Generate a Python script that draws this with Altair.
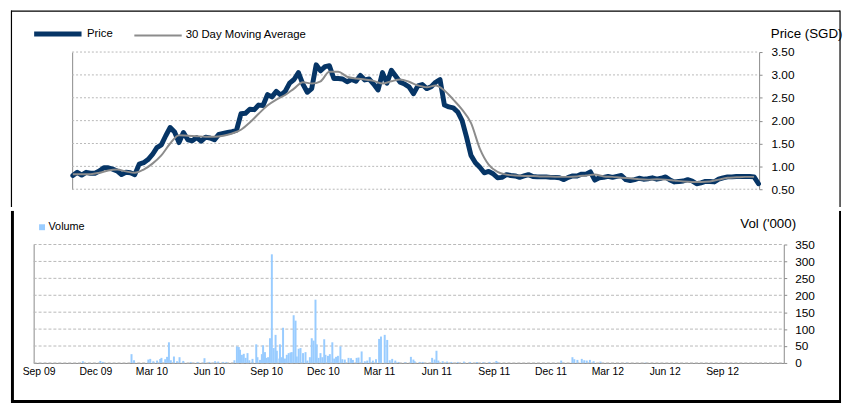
import altair as alt
import pandas as pd

FONT = "Liberation Sans"

# ---------------- data ----------------
price_start = "2009-11-02"          # weekly closing prices
price_values = [
    0.80, 0.87, 0.81, 0.87, 0.85, 0.85, 0.90, 0.97, 0.97, 0.94,
    0.90, 0.82, 0.87, 0.86, 0.82, 1.05, 1.08, 1.15, 1.26, 1.41,
    1.47, 1.67, 1.85, 1.75, 1.52, 1.74, 1.58, 1.56, 1.63, 1.55,
    1.64, 1.62, 1.58, 1.70, 1.72, 1.74, 1.76, 1.79, 2.15, 2.16,
    2.25, 2.24, 2.34, 2.33, 2.57, 2.52, 2.64, 2.56, 2.64, 2.82,
    2.90, 3.05, 2.80, 2.62, 2.70, 3.22, 3.09, 3.18, 3.20, 2.92,
    2.92, 2.91, 2.85, 2.90, 2.86, 2.99, 2.89, 2.91, 2.80, 2.67,
    3.05, 2.82, 3.10, 2.97, 2.84, 2.80, 2.74, 2.59, 2.76, 2.79,
    2.70, 2.74, 2.84, 2.90, 2.34, 2.30, 2.28, 2.19, 2.00, 1.64,
    1.24, 1.08, 0.98, 0.86, 0.89, 0.84, 0.75, 0.76, 0.82, 0.80,
    0.79, 0.76, 0.79, 0.82, 0.78, 0.77, 0.77, 0.77, 0.76, 0.76,
    0.75, 0.71, 0.76, 0.79, 0.79, 0.83, 0.83, 0.88, 0.70, 0.75,
    0.76, 0.78, 0.76, 0.78, 0.80, 0.71, 0.69, 0.71, 0.74, 0.72,
    0.73, 0.75, 0.72, 0.74, 0.77, 0.70, 0.66, 0.67, 0.68, 0.71,
    0.68, 0.62, 0.64, 0.67, 0.67, 0.66, 0.72, 0.75, 0.77, 0.77,
    0.78, 0.78, 0.78, 0.78, 0.77, 0.62,
]

ma_start = "2009-11-02"             # 30 day moving average, fortnightly
ma_values = [
    0.83, 0.83, 0.83, 0.86, 0.91, 0.93, 0.89, 0.86, 0.93, 1.06,
    1.24, 1.50, 1.68, 1.67, 1.66, 1.65, 1.65, 1.67, 1.72, 1.80,
    1.96, 2.15, 2.33, 2.46, 2.56, 2.70, 2.84, 2.81, 2.86, 3.07,
    3.07, 2.96, 2.92, 2.90, 2.87, 2.81, 2.86, 2.90, 2.85, 2.77,
    2.73, 2.77, 2.66, 2.46, 2.24, 1.95, 1.39, 1.04, 0.88, 0.82,
    0.80, 0.79, 0.79, 0.78, 0.78, 0.77, 0.77, 0.78, 0.80, 0.82,
    0.78, 0.77, 0.75, 0.74, 0.72, 0.71, 0.72, 0.71, 0.69, 0.67,
    0.66, 0.66, 0.67, 0.71, 0.75, 0.76, 0.77, 0.77,
]

vol_dates = [
    "2009-11-11", "2009-12-09", "2009-12-13", "2010-01-28", "2010-02-01", "2010-02-24",
    "2010-02-27", "2010-03-04", "2010-03-10", "2010-03-15", "2010-03-17", "2010-03-23",
    "2010-03-26", "2010-03-29", "2010-04-01", "2010-04-06", "2010-04-11", "2010-04-15",
    "2010-04-21", "2010-05-03", "2010-05-14", "2010-05-25", "2010-06-02", "2010-06-11",
    "2010-06-16", "2010-06-24", "2010-06-29", "2010-07-12", "2010-07-16", "2010-07-19",
    "2010-07-21", "2010-07-24", "2010-07-27", "2010-07-30", "2010-08-02", "2010-08-05",
    "2010-08-10", "2010-08-16", "2010-08-18", "2010-08-22", "2010-08-25", "2010-08-27",
    "2010-08-30", "2010-09-01", "2010-09-04", "2010-09-07", "2010-09-10", "2010-09-13",
    "2010-09-16", "2010-09-18", "2010-09-22", "2010-09-23", "2010-09-26", "2010-09-28",
    "2010-10-01", "2010-10-04", "2010-10-07", "2010-10-10", "2010-10-12", "2010-10-15",
    "2010-10-18", "2010-10-20", "2010-10-23", "2010-10-26", "2010-10-30", "2010-11-03",
    "2010-11-06", "2010-11-10", "2010-11-13", "2010-11-16", "2010-11-19", "2010-11-21",
    "2010-11-24", "2010-11-27", "2010-11-30", "2010-12-03", "2010-12-05", "2010-12-09",
    "2010-12-12", "2010-12-16", "2010-12-19", "2010-12-22", "2010-12-25", "2010-12-29",
    "2011-01-01", "2011-01-05", "2011-01-11", "2011-01-15", "2011-01-18", "2011-01-24",
    "2011-01-27", "2011-02-01", "2011-02-06", "2011-02-10", "2011-02-14", "2011-02-19",
    "2011-02-24", "2011-03-01", "2011-03-04", "2011-03-10", "2011-03-14", "2011-03-18",
    "2011-03-22", "2011-03-27", "2011-04-01", "2011-04-12", "2011-04-21", "2011-04-25",
    "2011-04-27", "2011-05-05", "2011-05-10", "2011-05-25", "2011-05-29", "2011-06-01",
    "2011-06-04", "2011-06-11", "2011-06-18", "2011-06-25", "2011-07-05", "2011-07-15",
    "2011-07-25", "2011-08-05", "2011-08-15", "2011-08-25", "2011-09-05", "2011-09-07",
    "2011-12-18", "2012-01-05", "2012-01-08", "2012-01-13", "2012-01-20", "2012-01-24",
    "2012-01-28", "2012-02-02", "2012-02-08", "2012-02-19", "2012-04-01", "2012-05-01",
]
vol_values = [
    5, 6, 3, 26, 8, 10,
    12, 5, 7, 12, 15, 11,
    18, 61, 8, 19, 5, 17,
    6, 3, 3, 14, 3, 5,
    4, 3, 3, 8, 49, 47,
    39, 24, 27, 15, 29, 8,
    12, 55, 17, 9, 26, 52,
    32, 15, 17, 73, 321, 44,
    83, 36, 13, 55, 17, 104,
    13, 24, 29, 31, 32, 141,
    125, 19, 42, 44, 29, 32,
    7, 17, 73, 66, 187, 55,
    15, 29, 17, 70, 24, 21,
    26, 61, 13, 18, 21, 49,
    11, 10, 15, 14, 9, 15,
    16, 34, 5, 7, 17, 7,
    11, 71, 78, 83, 68, 8,
    12, 7, 3, 2, 18, 10,
    5, 3, 3, 15, 10, 36,
    7, 5, 4, 3, 3, 4,
    3, 3, 2, 3, 6, 3,
    7, 17, 11, 9, 12, 8,
    7, 9, 5, 4, 1, 1,
]

price_ticks = [0.5, 1.0, 1.5, 2.0, 2.5, 3.0, 3.5]
vol_ticks = [0, 50, 100, 150, 200, 250, 300, 350]
quarter_ticks = ["2009-09-01", "2009-12-01", "2010-03-01", "2010-06-01", "2010-09-01",
                 "2010-12-01", "2011-03-01", "2011-06-01", "2011-09-01", "2011-12-01",
                 "2012-03-01", "2012-06-01", "2012-09-01"]
x_start, x_end = "2009-09-01", "2012-12-01"
series_names = ["Price", "30 Day Moving Average"]

# ---------------- tables ----------------
price_df = pd.DataFrame({
    "date": pd.date_range(price_start, periods=len(price_values), freq="7D"),
    "value": price_values, "series": series_names[0]})
ma_df = pd.DataFrame({
    "date": pd.date_range(ma_start, periods=len(ma_values), freq="14D"),
    "value": ma_values, "series": series_names[1]})
vol_df = pd.DataFrame({"date": pd.to_datetime(vol_dates), "vol": vol_values, "series": "Volume"})
ptick_df = pd.DataFrame({"v": price_ticks})
vtick_df = pd.DataFrame({"v": vol_ticks})
one_top = pd.DataFrame({"frame": ["top"]})
one_bot = pd.DataFrame({"frame": ["bottom"]})


def dt(s):
    t = pd.Timestamp(s)
    return alt.DateTime(year=t.year, month=t.month, date=t.day)


x_scale = alt.Scale(domain=[dt(x_start), dt(x_end)])
price_scale = alt.Scale(domain=[0.5, 3.5], nice=False, zero=False)
vol_scale = alt.Scale(domain=[0, 350], nice=False)

W = 760
H_TOP = 139
H_BOT = 120
AX = "#8a8a8a"
GRID = "#b8b8b8"


def vline(src, x, y1, y2, w, color="black"):
    return alt.Chart(src).mark_rule(color=color, strokeWidth=w).encode(
        x=alt.value(x), y=alt.value(y1), y2=alt.value(y2))


def hline(src, y, x1, x2, w, color="black"):
    return alt.Chart(src).mark_rule(color=color, strokeWidth=w).encode(
        y=alt.value(y), x=alt.value(x1), x2=alt.value(x2))


# ---------------- top panel ----------------
top_grid = alt.Chart(ptick_df).mark_rule(color=GRID, strokeDash=[2, 2], strokeWidth=1).encode(
    y=alt.Y("v:Q", scale=price_scale,
            axis=alt.Axis(orient="left", offset=-39, labels=False, ticks=False, grid=False,
                          title=None, domainColor=AX, domainWidth=1)),
    x=alt.value(39), x2=alt.value(735))

line_legend = alt.Legend(title=None, orient="none", legendX=-2, legendY=-45, direction="horizontal",
                         symbolType="stroke", symbolSize=2304, labelFont=FONT, labelFontSize=11.5,
                         labelColor="black", labelOffset=3, columnPadding=17, padding=0)
color_enc = alt.Color("series:N", scale=alt.Scale(domain=series_names, range=["#063566", "#8c8c8c"]),
                      legend=line_legend)
width_enc = alt.StrokeWidth("series:N", scale=alt.Scale(domain=series_names, range=[5, 2]),
                            legend=line_legend)

price_line = alt.Chart(price_df).mark_line(strokeJoin="round", strokeCap="round").encode(
    x=alt.X("date:T", scale=x_scale, axis=None),
    y=alt.Y("value:Q", scale=price_scale,
            axis=alt.Axis(orient="right", offset=-25, values=price_ticks, format=".2f", grid=False,
                          tickSize=3, tickColor=AX, labelPadding=9, domainColor=AX,
                          labelFontSize=12, title="Price (SGD)", titleAngle=0, titleAlign="right",
                          titleBaseline="middle", titleX=84, titleY=-19, titleFontSize=13.5,
                          titleFontWeight="normal")),
    color=color_enc, strokeWidth=width_enc)

ma_line = alt.Chart(ma_df).mark_line(interpolate="monotone").encode(
    x=alt.X("date:T", scale=x_scale, axis=None),
    y=alt.Y("value:Q", scale=price_scale, axis=None),
    color=color_enc, strokeWidth=width_enc)

top = alt.layer(
    top_grid, price_line, ma_line,
    hline(one_top, -41.5, -23, 817, 1.2), vline(one_top, -22.5, -42, 157, 1.2),
    vline(one_top, 817, -42, 157, 1.2),
).resolve_axis(y="independent").properties(width=W, height=H_TOP)

# ---------------- bottom panel ----------------
bot_grid = alt.Chart(vtick_df).mark_rule(color=GRID, strokeDash=[3, 2], strokeWidth=1).encode(
    y=alt.Y("v:Q", scale=vol_scale,
            axis=alt.Axis(orient="left", labels=False, ticks=False, grid=False, title=None,
                          domainColor=AX, domainWidth=1)),
    x=alt.value(0), x2=alt.value(W))

bars = alt.Chart(vol_df).mark_bar(size=2).encode(
    x=alt.X("date:T", scale=x_scale,
            axis=alt.Axis(values=[dt(q) for q in quarter_ticks], format="%b %y", labelAngle=0,
                          tickSize=0, labelPadding=4, domainColor=AX, grid=False, title=None,
                          labelFontSize=10.5)),
    y=alt.Y("vol:Q", scale=vol_scale,
            axis=alt.Axis(orient="right", values=vol_ticks, grid=False, tickSize=3, tickColor=AX,
                          labelPadding=8, domainColor=AX, labelFontSize=12,
                          title="Vol ('000)", titleAngle=0, titleAlign="right", titleBaseline="middle",
                          titleX=12, titleY=-21, titleFontSize=13.5, titleFontWeight="normal")),
    color=alt.Color("series:N", scale=alt.Scale(domain=["Volume"], range=["#99ccff"]),
                    legend=alt.Legend(title=None, orient="none", legendX=3, legendY=-23,
                                      symbolType="square", symbolSize=36, labelFont=FONT,
                                      labelFontSize=11, labelColor="black", labelOffset=1,
                                      padding=0)))

bottom = alt.layer(
    bot_grid, bars,
    vline(one_bot, -21.5, -34, 159, 3), vline(one_bot, 817, -34, 159, 2),
    hline(one_bot, 159, -23, 818, 3),
).resolve_axis(y="independent").properties(width=W, height=H_BOT)

chart = alt.vconcat(top, bottom, spacing=1).resolve_scale(
    color="independent", strokeWidth="independent"
).properties(
    padding={"left": 1, "top": -3, "right": 0, "bottom": 0}
).configure_view(stroke=None).configure_axis(
    labelFont=FONT, titleFont=FONT, labelColor="black", titleColor="black"
).configure_legend(labelFont=FONT)

chart.save("out.html", embed_options={"renderer": "svg", "actions": False})
